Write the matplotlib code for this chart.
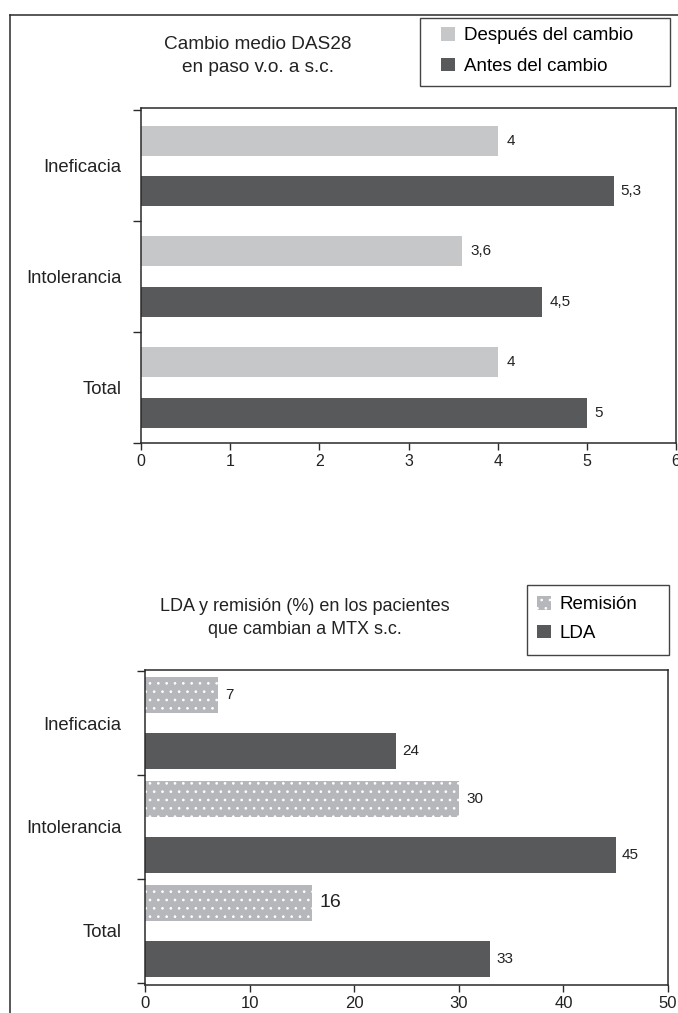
import matplotlib.pyplot as plt
from matplotlib.lines import Line2D
from matplotlib.patches import Patch, Rectangle

plt.rcParams['font.family'] = ['Liberation Sans', 'DejaVu Sans']
plt.rcParams['hatch.linewidth'] = 0.7

# Data
categories = ['Ineficacia', 'Intolerancia', 'Total']

das_after = [4, 3.6, 4]
das_before = [5.3, 4.5, 5]
das_after_labels = ['4', '3,6', '4']
das_before_labels = ['5,3', '4,5', '5']

remision = [7, 30, 16]
lda = [24, 45, 33]

LIGHT = '#c6c7c9'
DARK = '#58595b'
DOTTED = '#b5b7bb'
LINE = '#2a2a2a'
TXT = '#222222'

W, H = 678, 1013
fig = plt.figure(figsize=(W / 100, H / 100), dpi=100)


def px(x, y):
    # pixel position (from top-left) -> figure fraction
    return x / W, 1 - y / H


# outer frame (top and left edge only)
fig.add_artist(Line2D([10 / W, 1], [1 - 15 / H, 1 - 15 / H], color=LINE, lw=1.1))
fig.add_artist(Line2D([10 / W, 10 / W], [0, 1 - 15 / H], color=LINE, lw=1.1))


def style_axes(ax, xmax, xstep, ylim, label_pad, ticksize):
    ax.set_xlim(0, xmax)
    ax.set_xticks(range(0, xmax + 1, xstep))
    ax.set_ylim(ylim)
    ax.set_yticks(range(len(categories)))
    ax.set_yticklabels(categories, fontsize=13.3, color=TXT)
    ax.tick_params(axis='y', which='major', length=0, pad=label_pad)
    ax.set_yticks([-0.5, 0.5, 1.5, 2.5], minor=True)
    ax.tick_params(axis='y', which='minor', length=6, width=1.0, color=LINE, direction='out')
    ax.tick_params(axis='x', length=5, width=1.0, color=LINE, labelsize=ticksize, pad=3,
                   labelcolor=TXT)
    for s in ax.spines.values():
        s.set_color(LINE)
        s.set_linewidth(1.1)


def legend_box(x0, y0, x1, y1):
    (fx0, fy1), (fx1, fy0) = px(x0, y0), px(x1, y1)
    fig.add_artist(Rectangle((fx0, fy0), fx1 - fx0, fy1 - fy0, fill=False,
                             edgecolor='#444444', lw=1.0, transform=fig.transFigure))


# ---- top chart: DAS28 ----
ax1 = fig.add_axes([141 / W, 1 - 443 / H, 535 / W, 335 / H])
y = list(range(len(categories)))
off1 = 0.228
h1 = 0.27
ax1.barh([v - off1 for v in y], das_after, height=h1, color=LIGHT)
ax1.barh([v + off1 for v in y], das_before, height=h1, color=DARK)
for i in y:
    ax1.text(das_after[i] + 0.1, i - off1, das_after_labels[i], va='center', fontsize=11,
             color=TXT)
    ax1.text(das_before[i] + 0.08, i + off1, das_before_labels[i], va='center', fontsize=11,
             color=TXT)
style_axes(ax1, 6, 1, (2.469, -0.522), 14, 11.5)

fig.text(*px(258, 56), 'Cambio medio DAS28\nen paso v.o. a s.c.', ha='center', va='center',
         fontsize=13.7, linespacing=1.45, color=TXT)

legend_box(420, 18, 670, 86)
fig.legend(handles=[Patch(facecolor=LIGHT, label='Después del cambio'),
                    Patch(facecolor=DARK, label='Antes del cambio')],
           loc='center left', bbox_to_anchor=px(441, 51), fontsize=13.5, frameon=False,
           handlelength=0.75, handleheight=0.75, handletextpad=0.45,
           labelspacing=0.7, borderpad=0, borderaxespad=0)

# ---- bottom chart: LDA y remision ----
ax2 = fig.add_axes([145 / W, 1 - 985 / H, 523 / W, 315 / H])
off2 = 0.27
h2 = 0.346
ax2.barh([v - off2 for v in y], remision, height=h2, color=DOTTED, edgecolor='white',
         hatch='..', linewidth=0)
ax2.barh([v + off2 for v in y], lda, height=h2, color=DARK)
for i in y:
    size = 14 if categories[i] == 'Total' else 11
    ax2.text(remision[i] + 0.7, i - off2, str(remision[i]), va='center', fontsize=size,
             color=TXT)
    ax2.text(lda[i] + 0.6, i + off2, str(lda[i]), va='center', fontsize=11, color=TXT)
style_axes(ax2, 50, 10, (2.52, -0.51), 17, 12)

fig.text(*px(305, 618), 'LDA y remisión (%) en los pacientes\nque cambian a MTX s.c.',
         ha='center', va='center', fontsize=13, linespacing=1.5, color=TXT)

legend_box(527, 585, 669, 655)
fig.legend(handles=[Patch(facecolor=DOTTED, edgecolor='white', hatch='..', linewidth=0,
                          label='Remisión'),
                    Patch(facecolor=DARK, label='LDA')],
           loc='center left', bbox_to_anchor=px(537, 619), fontsize=13.5, frameon=False,
           handlelength=0.75, handleheight=0.75, handletextpad=0.45,
           labelspacing=0.6, borderpad=0, borderaxespad=0)

plt.savefig('out.png', dpi=100)
